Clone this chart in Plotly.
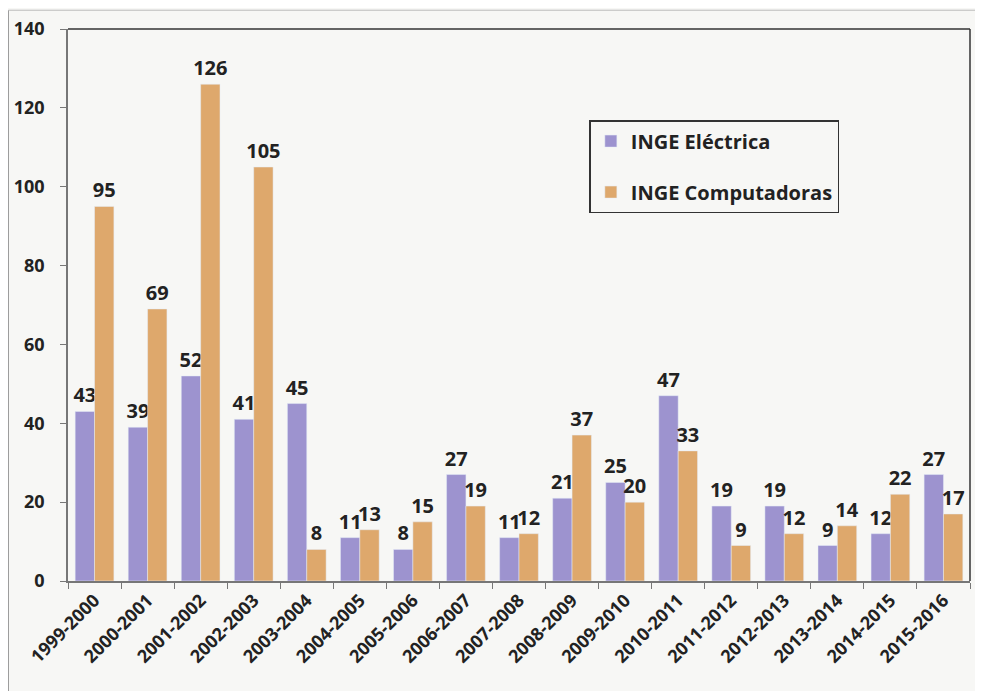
import plotly.graph_objects as go

periods = ["1999-2000", "2000-2001", "2001-2002", "2002-2003", "2003-2004", "2004-2005",
           "2005-2006", "2006-2007", "2007-2008", "2008-2009", "2009-2010", "2010-2011",
           "2011-2012", "2012-2013", "2013-2014", "2014-2015", "2015-2016"]
electrica = [43, 39, 52, 41, 45, 11, 8, 27, 11, 21, 25, 47, 19, 19, 9, 12, 27]
computadoras = [95, 69, 126, 105, 8, 13, 15, 19, 12, 37, 20, 33, 9, 12, 14, 22, 17]

PURPLE = "#9d93cf"
ORANGE = "#dea86c"
FONT = "Open Sans"

fig = go.Figure()
fig.add_trace(go.Bar(
    x=periods, y=electrica, name="INGE Eléctrica", legendgroup="a",
    marker_color=PURPLE, text=electrica, textposition="outside", cliponaxis=False,
    textfont=dict(size=20, color="#222222", family=FONT, weight="bold"),
))
fig.add_trace(go.Bar(
    x=periods, y=computadoras, name="INGE Computadoras", legendgroup="b",
    marker_color=ORANGE, text=computadoras, textposition="outside", cliponaxis=False,
    textfont=dict(size=20, color="#222222", family=FONT, weight="bold"),
))

# page body adds ~8px, so the figure is a bit smaller than the window
fig.update_layout(
    width=975, height=683,
    paper_bgcolor="#f7f7f5", plot_bgcolor="#f7f7f5",
    margin=dict(l=60, r=13, t=21, b=110),
    barmode="group", bargap=0.27, bargroupgap=0,
    uniformtext=dict(minsize=20, mode="show"),
    font=dict(family=FONT, color="#222222", size=15),
    legend=dict(
        x=0.578, y=0.835, xanchor="left", yanchor="top",
        bgcolor="rgba(0,0,0,0)", bordercolor="#333333", borderwidth=1.5,
        font=dict(size=20, family=FONT, weight="bold"),
        tracegroupgap=22, itemwidth=30,
    ),
    showlegend=True,
    shapes=[dict(type="line", xref="paper", yref="paper",
                 x0=-0.066, x1=-0.066, y0=-0.2, y1=1.034,
                 line=dict(color="#999999", width=1)),
            dict(type="line", xref="paper", yref="paper",
                 x0=-0.066, x1=1.02, y0=1.034, y1=1.034,
                 line=dict(color="#bbbbbb", width=1))],
)
fig.update_yaxes(
    range=[0, 140], dtick=20, showgrid=False, zeroline=False, automargin=False,
    showline=True, linecolor="#777777", linewidth=1.5, mirror=False,
    ticks="outside", ticklen=6, tickcolor="#777777", ticklabelstandoff=12,
    tickfont=dict(size=18, family=FONT, weight="bold"),
)
fig.update_xaxes(
    showgrid=False, showline=True, linecolor="#777777", linewidth=1.5, automargin=False,
    ticks="outside", ticklen=6, tickcolor="#777777", tickson="boundaries",
    tickangle=-45, tickfont=dict(size=18, family=FONT, weight="bold"),
)
# dark frame at top and right of the plot area
fig.add_shape(type="line", xref="paper", yref="paper", x0=0, x1=1, y0=1, y1=1,
              line=dict(color="#333333", width=1.5))
fig.add_shape(type="line", xref="paper", yref="paper", x0=1, x1=1, y0=0, y1=1,
              line=dict(color="#333333", width=1.5))

fig.write_html("out.html")
